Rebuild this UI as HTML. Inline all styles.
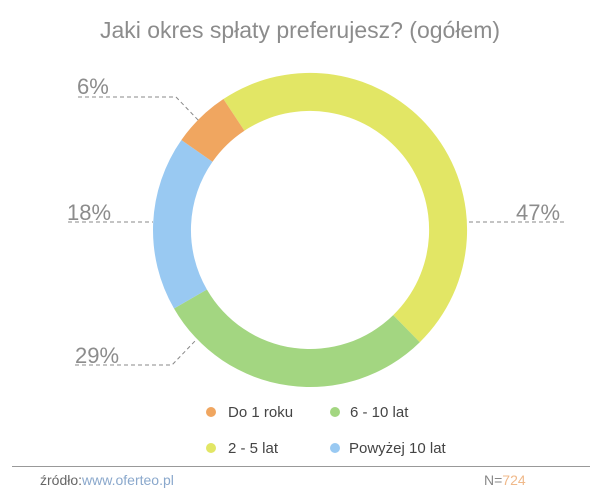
<!DOCTYPE html>
<html><head><meta charset="utf-8"><style>
body{margin:0;background:#fff;}
svg{display:block;font-family:"Liberation Sans",sans-serif;}
</style></head><body>
<svg width="600" height="500" viewBox="0 0 600 500">
<text x="300" y="38" text-anchor="middle" font-size="23" fill="#8c8c8c">Jaki okres spłaty preferujesz? (ogółem)</text>
<g transform="translate(310,230)">
<path d="M-86.6,-131.0 A157,157 0 0 1 109.8,112.2 L83.2,85.1 A119,119 0 0 0 -65.6,-99.3 Z" fill="#e2e665"/>
<path d="M109.8,112.2 A157,157 0 0 1 -136.0,78.5 L-103.1,59.5 A119,119 0 0 0 83.2,85.1 Z" fill="#a3d681"/>
<path d="M-136.0,78.5 A157,157 0 0 1 -128.6,-90.0 L-97.5,-68.3 A119,119 0 0 0 -103.1,59.5 Z" fill="#99c9f2"/>
<path d="M-128.6,-90.0 A157,157 0 0 1 -86.6,-131.0 L-65.6,-99.3 A119,119 0 0 0 -97.5,-68.3 Z" fill="#f0a660"/>
</g>
<g fill="#8c8c8c" font-size="22">
<text x="77" y="94">6%</text>
<text x="67" y="220">18%</text>
<text x="516" y="220">47%</text>
<text x="75" y="363">29%</text>
</g>
<g stroke="#888" stroke-width="1" stroke-dasharray="4,3" fill="none">
<path d="M78,97 L176,97 L200,122"/>
<path d="M68,222 L153,222"/>
<path d="M469,222 L566,222"/>
<path d="M75,365 L172,365 L196,340"/>
</g>
<g font-size="15" fill="#444">
<circle cx="211" cy="412" r="5" fill="#f0a660"/><text x="228" y="417">Do 1 roku</text>
<circle cx="335" cy="412" r="5" fill="#a3d681"/><text x="350" y="417">6 - 10 lat</text>
<circle cx="211" cy="448" r="5" fill="#e2e665"/><text x="228" y="453">2 - 5 lat</text>
<circle cx="335" cy="448" r="5" fill="#99c9f2"/><text x="349" y="453">Powyżej 10 lat</text>
</g>
<line x1="12" y1="466.5" x2="590" y2="466.5" stroke="#999" stroke-width="1"/>
<text x="40" y="485" font-size="14" fill="#666">źródło:<tspan fill="#8aa8cc">www.oferteo.pl</tspan></text>
<text x="484" y="485" font-size="14" fill="#888">N=<tspan fill="#f0b98a">724</tspan></text>
</svg>
</body></html>
